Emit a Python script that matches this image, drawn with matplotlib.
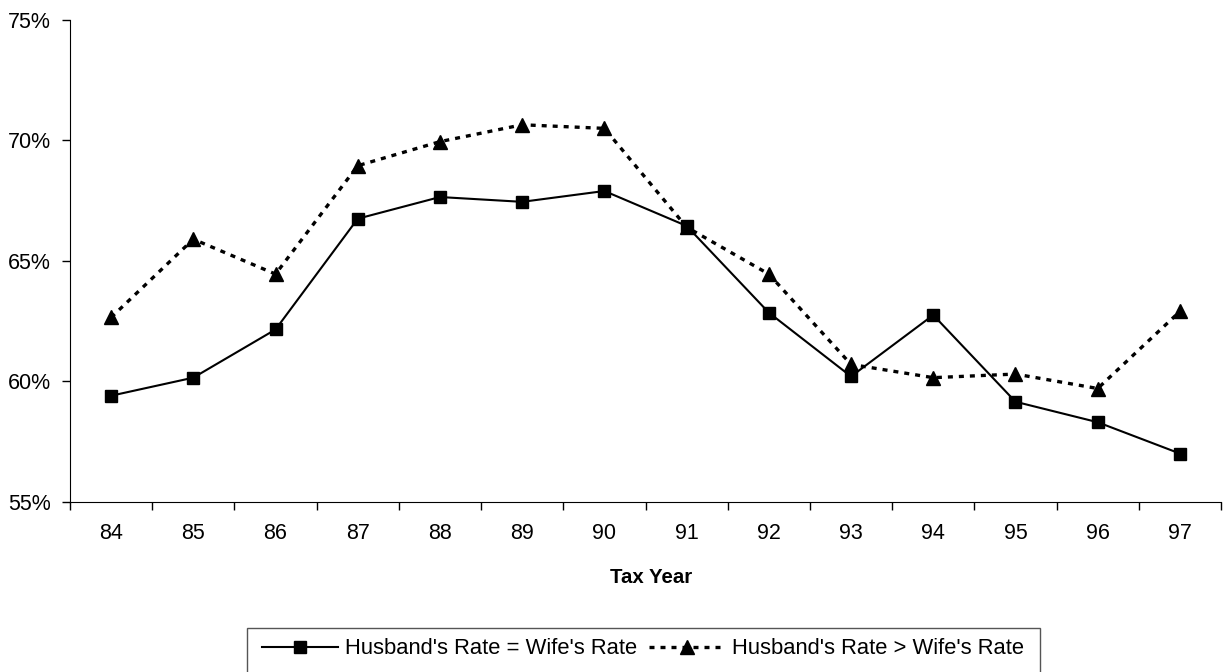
import matplotlib
matplotlib.use("Agg")
import matplotlib.pyplot as plt
from matplotlib.ticker import PercentFormatter, FixedLocator
from matplotlib.patches import Rectangle
import numpy as np

# tax years and rates (percent)
years = ['84', '85', '86', '87', '88', '89', '90', '91', '92', '93', '94', '95', '96', '97']
equal_rate = [59.4, 60.15, 62.15, 66.75, 67.65, 67.45, 67.9, 66.45, 62.85, 60.2, 62.75, 59.15, 58.3, 57.0]
greater_rate = [62.65, 65.9, 64.45, 68.95, 69.95, 70.65, 70.5, 66.4, 64.45, 60.7, 60.15, 60.3, 59.7, 62.9]

plt.rcParams['font.family'] = ['Liberation Sans', 'DejaVu Sans']

W, H = 1223, 672
fig = plt.figure(figsize=(W / 100, H / 100), dpi=100)
ax = fig.add_axes([70 / W, 1 - 501.7 / H, 1151 / W, 481.7 / H])

x = np.arange(len(years))
ax.plot(x, equal_rate, color='black', lw=1.5, marker='s', markersize=9,
        label="Husband's Rate = Wife's Rate")
ax.plot(x, greater_rate, color='black', lw=2.4, linestyle=(0, (1.5, 1.8)),
        marker='^', markersize=10, label="Husband's Rate > Wife's Rate")

ax.set_xlim(-0.5, len(years) - 0.5)
ax.set_ylim(55, 75)
ax.set_yticks([55, 60, 65, 70, 75])
ax.yaxis.set_major_formatter(PercentFormatter(decimals=0))

# tick marks between categories, labels at the centres
ax.xaxis.set_major_locator(FixedLocator(np.arange(-0.5, len(years), 1)))
ax.xaxis.set_major_formatter(plt.NullFormatter())
ax.xaxis.set_minor_locator(FixedLocator(x))
ax.set_xticklabels(years, minor=True)
ax.tick_params(axis='x', which='major', direction='out', length=6, width=1)
ax.tick_params(axis='x', which='minor', length=0, pad=15, labelsize=15.5)
ax.tick_params(axis='y', direction='out', length=6, width=1, pad=8, labelsize=15.5)

for s in ['top', 'right']:
    ax.spines[s].set_visible(False)

fig.text(651 / W, 1 - 583 / H, 'Tax Year', fontsize=14.7, fontweight='bold',
         ha='center', va='baseline')

leg = fig.legend(loc='center', bbox_to_anchor=(643 / W, 1 - 649 / H), ncol=2,
                 fontsize=15.8, frameon=False, handlelength=3.5,
                 handletextpad=0.32, columnspacing=0.5, borderpad=0, borderaxespad=0)

# legend box (its bottom edge falls outside the picture)
fig.add_artist(Rectangle((246.7 / W, -0.05), (1040 - 246.7) / W, 0.05 + 1 - 628 / H,
                         transform=fig.transFigure, fill=False, edgecolor='#555555', lw=1))

fig.savefig('out.png', dpi=100)
